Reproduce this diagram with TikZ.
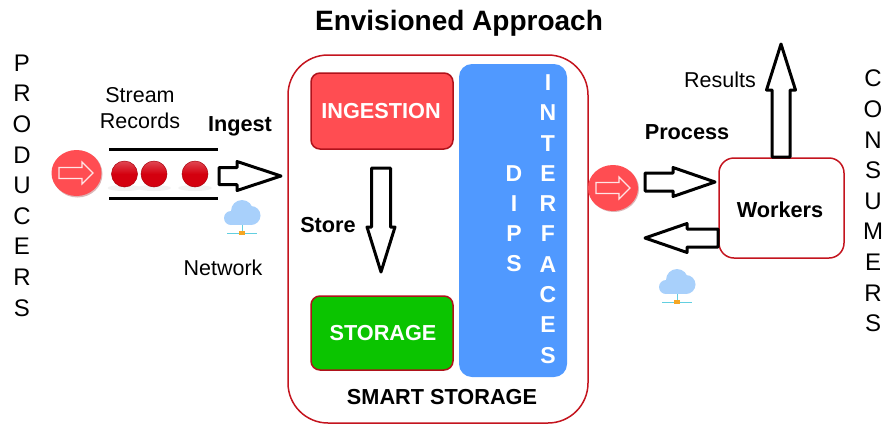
\documentclass[tikz,border=0pt]{standalone}
\usepackage{fontspec}
\setmainfont{Liberation Sans}
\usetikzlibrary{calc}
\definecolor{redfill}{HTML}{FF4D52}
\definecolor{redline}{HTML}{C4141E}
\definecolor{bluefill}{HTML}{5099FF}
\definecolor{greenfill}{HTML}{0BC400}
\definecolor{balldark}{HTML}{D4000F}
\definecolor{cloudblue}{HTML}{A8D0FB}
\definecolor{netline}{HTML}{62CFE0}
\definecolor{netorange}{HTML}{F5A623}
\newcommand{\fs}[1]{\fontsize{#1}{#1}\selectfont}
% block arrow: style, tail, tip, shaft half-width, head half-width, head length
\newcommand{\blockarrow}[6][blockline]{%
  \draw[#1]
    ($(#2)!#4pt!90:(#3)$) --
    ($($(#3)!#6pt!(#2)$)!#4pt!-90:(#2)$) --
    ($($(#3)!#6pt!(#2)$)!#5pt!-90:(#2)$) --
    (#3) --
    ($($(#3)!#6pt!(#2)$)!#5pt!90:(#2)$) --
    ($($(#3)!#6pt!(#2)$)!#4pt!90:(#2)$) --
    ($(#2)!#4pt!-90:(#3)$) -- cycle;}
\newcommand{\netcloud}[2]{%
  \begin{scope}[shift={(#1,#2)}]
    \fill[cloudblue] (0,11) circle[radius=11];
    \fill[cloudblue] (-11,18) circle[radius=7];
    \fill[cloudblue] (9,15.5) circle[radius=9.5];
    \fill[cloudblue] (-11,15) rectangle (10,25);
    \draw[netline,line width=1] (0,25) -- (0,33);
    \draw[netline,line width=1] (-15,33) -- (15,33);
    \fill[netorange] (-3,31) rectangle (3,35);
  \end{scope}}
\tikzset{
  x=1pt,y=-1pt,
  blockline/.style={draw=black,line width=3,fill=white,line join=round},
  innerarrow/.style={draw=white!85!redfill,line width=1.1,fill=redfill,line join=miter},
  lab/.style={font=\fs{21.5},inner sep=0,text=black},
  blab/.style={font=\bfseries\fs{21.7},inner sep=0,text=black},
  wlab/.style={font=\bfseries\fs{21.7},inner sep=0,text=white},
  vertical/.style={font=\fs{24},inner sep=0,align=center},
  vwhite/.style={font=\bfseries\fs{23},inner sep=0,align=center,text=white},
  box/.style={rounded corners=9,draw=redline!90!black,line width=1.5},
  redball/.style={circle,minimum size=26,inner sep=0,draw=balldark!80!black,line width=0.5,top color=balldark!72!white,bottom color=balldark,middle color=balldark},
  shade/.style={fill=black!5},
  rail/.style={line width=3,draw=black}
}
\begin{document}
\begin{tikzpicture}
\useasboundingbox (0,0) rectangle (884,424);
\node[font=\bfseries\fs{28},inner sep=0] (title) at (459,23) {Envisioned Approach};

% side labels
\node[vertical] (producers) at (22,185.5) {P\\[6.6pt]R\\[6.6pt]O\\[6.6pt]D\\[6.6pt]U\\[6.6pt]C\\[6.6pt]E\\[6.6pt]R\\[6.6pt]S};
\node[vertical] (consumers) at (873,201) {C\\[6.6pt]O\\[6.6pt]N\\[6.6pt]S\\[6.6pt]U\\[6.6pt]M\\[6.6pt]E\\[6.6pt]R\\[6.6pt]S};

% producer queue
\fill[redfill!60!black,opacity=.35] (77.5,174) ellipse[x radius=25,y radius=23.5];
\fill[redfill] (76.5,173) ellipse[x radius=25,y radius=23];
\coordinate (pa) at (59,173); \coordinate (pb) at (93,173);
\blockarrow[innerarrow]{pa}{pb}{5.5}{11}{11}
\foreach \n/\x in {a/124.5,b/154,c/195}{
  \fill[shade] (\x,188) ellipse[x radius=17,y radius=3];
  \node[redball] (ball\n) at (\x,174) {};
}
\coordinate (r1a) at (109,149); \coordinate (r1b) at (218,149);
\coordinate (r2a) at (109,198); \coordinate (r2b) at (218,198);
\draw[rail] (r1a) -- (r1b);
\draw[rail] (r2a) -- (r2b);
\node[lab,align=center] (stream) at (140,108) {Stream\\[4pt]Records};
\node[blab] (ingest) at (240,126) {Ingest};
\coordinate (ia) at (219,176); \coordinate (ib) at (281,176);
\blockarrow{ia}{ib}{8.5}{14.5}{44}
\netcloud{242}{200}
\node[lab] (network) at (223,268) {Network};

% smart storage
\draw[redline,line width=1.5,rounded corners=40,fill=white] (288,55) rectangle (588,423);
\node[blab] (smart) at (442,397) {SMART STORAGE};
\draw[box,fill=redfill] (311,73) rectangle (453,149);
\node[wlab] (ingestion) at (381,111) {INGESTION};
\draw[box,fill=greenfill] (311,296) rectangle (453,370);
\node[wlab] (storage) at (383,333) {STORAGE};
\fill[bluefill,rounded corners=13] (459,64) rectangle (567,377);
\node[vwhite] (dips) at (514,218.5) {D\\[7pt]I\\[7pt]P\\[7pt]S};
\node[vwhite] (interfaces) at (548,219) {I\\[7.3pt]N\\[7.3pt]T\\[7.3pt]E\\[7.3pt]R\\[7.3pt]F\\[7.3pt]A\\[7.3pt]C\\[7.3pt]E\\[7.3pt]S};
\coordinate (sa) at (381,168); \coordinate (sb) at (381,272);
\blockarrow{sa}{sb}{9.5}{14}{45}
\node[blab] (store) at (328,225) {Store};

% consumer side
\fill[redfill!60!black,opacity=.35] (614,189) ellipse[x radius=25,y radius=23];
\fill[redfill] (613,188) ellipse[x radius=25,y radius=23];
\coordinate (qa) at (596,188); \coordinate (qb) at (630,188);
\blockarrow[innerarrow]{qa}{qb}{5.5}{11}{11}
\draw[redline,line width=1.5,rounded corners=15,fill=white] (719,158) rectangle (844,258);
\node[blab] (workers) at (780,210) {Workers};
\node[blab] (process) at (687,132) {Process};
\node[lab] (results) at (720,80) {Results};
\coordinate (wa) at (645,182); \coordinate (wb) at (715,182);
\blockarrow{wa}{wb}{9}{14.5}{42}
\coordinate (ba) at (718,238); \coordinate (bb) at (645,238);
\blockarrow{ba}{bb}{9}{14.5}{42}
\coordinate (ra) at (781,157); \coordinate (rb) at (781,44);
\blockarrow{ra}{rb}{9}{14.5}{46}
\netcloud{677}{269}
\end{tikzpicture}
\end{document}
